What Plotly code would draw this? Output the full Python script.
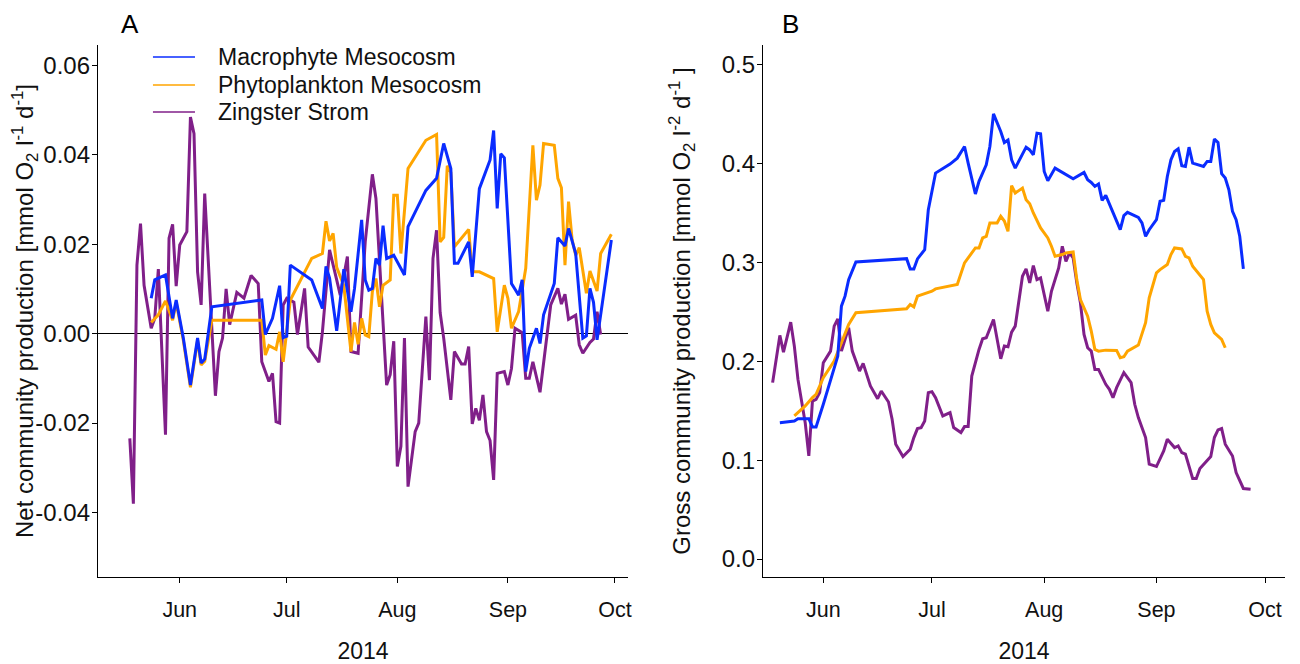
import numpy as np
import pandas as pd
import plotly.graph_objects as go

# ---------------- data (day of year 2014, values) ----------------
# Panel A: net community production
zs_nep_doy = [138, 139, 140, 141, 142, 144, 145, 146, 148, 149, 150, 151, 152, 154, 155, 156, 157, 158, 159,
              162, 163, 164, 165, 166, 168, 170, 172, 174, 175, 177, 178, 179, 180, 181, 182, 184, 185, 187,
              188, 191, 192, 194, 196, 197, 199, 200, 202, 204, 206, 207, 210, 211, 212, 213, 214, 215, 216,
              218, 219, 221, 222, 223, 224, 225, 226, 228, 229, 231, 232, 233, 234, 235, 236, 237, 238, 239,
              240, 241, 243, 244, 245, 246, 248, 249, 250, 251, 253, 254, 256, 258, 259, 260, 261, 263, 264,
              265, 267, 268, 269, 270]
zs_nep = [-0.0234, -0.038, 0.0153, 0.0246, 0.0108, 0.0012, 0.0034, 0.0144, -0.0226, 0.0213, 0.0244, 0.0106,
          0.0198, 0.0228, 0.0484, 0.0447, 0.0138, 0.0064, 0.0313,
          -0.0139, -0.004, -0.001, 0.01, 0.002, 0.0092, 0.0079, 0.013, 0.0112, -0.0063, -0.0107, -0.0089,
          -0.0197, -0.02, 0.0064, 0.0079, 0.007, -0.0002, 0.0101,
          -0.003, -0.0064, 0.0004, 0.0187, 0.012, 0.0086, 0.0172, -0.004, -0.0044, 0.0205, 0.0356, 0.0302,
          -0.0115, -0.0092, -0.0017, -0.0297, -0.0252, -0.001, -0.0342,
          -0.0219, -0.02, 0.0038, -0.0104, 0.0168, 0.0231, 0.0047, -0.001, -0.0148, -0.004, -0.0068, -0.0068,
          -0.0029, -0.0202, -0.0167, -0.0194, -0.0137, -0.0219, -0.0239,
          -0.0327, -0.0089, -0.0085, -0.0115, -0.0078, 0.0012, 0.0002, -0.01, -0.01, -0.0063, -0.0131, -0.0063,
          0.0064, 0.0101, 0.0066, 0.0088, 0.0032, 0.0041, -0.0025,
          -0.0044, -0.002, -0.0012, 0.0049, -0.0002]

mm_nep_doy = [144, 145, 148, 150, 151, 153, 155, 157, 158, 159, 161, 175, 176, 178, 180, 181, 182, 183, 189,
              192, 193, 194, 196, 198, 200, 201, 203, 204, 205, 206, 207, 208, 209, 210, 212, 215, 216, 221,
              224, 226, 228, 229, 230, 233, 234, 236, 239, 240, 241, 242, 243, 245, 246, 247, 248, 249, 250,
              252, 253, 254, 257, 258, 260, 261, 263, 265, 266, 267, 268, 269, 273]
mm_nep = [0.0079, 0.012, 0.0131, 0.0034, 0.0075, -0.001, -0.0115, -0.001, -0.0066, -0.0057, 0.006, 0.0075,
          -0.0002, 0.0034, 0.0107, -0.0009, -0.0006, 0.0153, 0.012,
          0.0056, 0.015, 0.0124, 0.0006, 0.0144, 0.0049, 0.0101, 0.0254, 0.012, 0.0097, 0.0101, 0.0168,
          0.0153, 0.0241, 0.0168, 0.0175, 0.0131, 0.0239, 0.032,
          0.0347, 0.0425, 0.0369, 0.0157, 0.0157, 0.0205, 0.0127, 0.0324, 0.0388, 0.0454, 0.028, 0.0402,
          0.0393, 0.0112, 0.0099, 0.0086, 0.012, -0.0085, -0.0033,
          0.0012, -0.0022, 0.0042, 0.0112, 0.0214, 0.0196, 0.0235, 0.0179, -0.001, -0.0005, 0.0101, 0.007,
          -0.0014, 0.0209]

pm_nep_doy = [144, 146, 148, 150, 151, 153, 155, 157, 158, 159, 161, 175, 176, 177, 179, 180, 181, 182, 183,
              189, 192, 193, 194, 195, 196, 198, 200, 201, 202, 203, 204, 205, 206, 207, 208, 209, 211, 212,
              213, 214, 216, 221, 224, 225, 226, 227, 228, 229, 233, 234, 236, 240, 241, 243, 244, 245, 247,
              249, 251, 252, 253, 254, 257, 258, 259, 260, 261, 262, 263, 264, 266, 267, 269, 270, 273]
pm_nep = [0.0025, 0.0042, 0.0073, 0.003, 0.007, -0.0015, -0.012, -0.0015, -0.007, -0.0062, 0.003, 0.003,
          -0.0048, -0.0027, -0.0035, 0.0004, -0.0063, 0.0003, 0.0075,
          0.0168, 0.0179, 0.0251, 0.0207, 0.0224, 0.0148, 0.0107, -0.004, 0.0025, -0.0024, 0.0034, -0.0003,
          -0.0007, 0.0094, 0.0123, 0.006, 0.0108, 0.012, 0.0309,
          0.0309, 0.0179, 0.0369, 0.0432, 0.0445, 0.0205, 0.0215, 0.0375, 0.036, 0.0194, 0.0233, 0.0138,
          0.0138, 0.0123, 0.0004, 0.0108, 0.0079, 0.0012, 0.0049,
          0.0146, 0.0421, 0.0298, 0.0332, 0.0425, 0.0421, 0.0347, 0.0326, 0.0153, 0.0295, 0.021, 0.0175,
          0.0192, 0.009, 0.014, 0.0095, 0.0179, 0.0222]

# Panel B: gross community production
zs_gpp_doy = [138, 140, 141, 143, 144, 145, 147, 148, 149, 150, 151, 152, 154, 155, 156, 157, 159, 160, 162,
              163, 165, 167, 168, 170, 171, 172, 174, 176, 177, 178, 179, 180, 181, 182, 183, 185, 187, 188,
              190, 191, 192, 193, 195, 196, 197, 199, 201, 202, 203, 204, 205, 207, 208, 209, 210, 211, 212,
              214, 215, 217, 218, 219, 220, 221, 222, 223, 224, 225, 226, 227, 228, 230, 231, 232, 233, 235,
              237, 238, 239, 241, 242, 244, 246, 247, 249, 250, 251, 252, 254, 255, 256, 257, 259, 260, 261,
              262, 263, 265, 266, 268, 270]
zs_gpp = [0.1785, 0.2263, 0.2094, 0.2397, 0.2155, 0.1818, 0.138, 0.1043, 0.1599, 0.1616, 0.1684, 0.1987,
          0.2104, 0.2357, 0.2431, 0.2104, 0.234, 0.2104, 0.1902,
          0.198, 0.1751, 0.1623, 0.17, 0.1589, 0.1414, 0.1162, 0.1037, 0.1111, 0.1229, 0.132, 0.133, 0.1397,
          0.1684, 0.1694, 0.1633, 0.1448, 0.1482, 0.133,
          0.128, 0.134, 0.134, 0.1852, 0.2121, 0.2229, 0.2239, 0.2424, 0.2027, 0.2155, 0.2148, 0.2296,
          0.2357, 0.2862, 0.2936, 0.2795, 0.297, 0.2828, 0.2845,
          0.2508, 0.271, 0.2946, 0.3165, 0.3013, 0.3098, 0.3047, 0.2795, 0.2593, 0.2273, 0.2138, 0.2104,
          0.1919, 0.1919, 0.1768, 0.1717, 0.1633, 0.1734, 0.1886,
          0.1785, 0.1566, 0.1431, 0.1229, 0.096, 0.0936, 0.1094, 0.1212, 0.1128, 0.1145, 0.1077, 0.1061,
          0.0815, 0.0815, 0.0916, 0.096, 0.1037, 0.1229, 0.1306,
          0.132, 0.1162, 0.1043, 0.0875, 0.0714, 0.0707]

mm_gpp_doy = [140, 144, 145, 148, 149, 150, 152, 154, 156, 157, 158, 159, 161, 175, 176, 177, 178, 180, 181,
              183, 187, 189, 191, 192, 194, 195, 197, 198, 199, 201, 202, 203, 204, 205, 208, 209, 210, 211,
              212, 213, 214, 216, 221, 224, 225, 226, 227, 228, 229, 230, 234, 235, 236, 239, 240, 241, 242,
              244, 245, 246, 247, 248, 249, 250, 251, 252, 253, 254, 257, 258, 259, 260, 261, 262, 263, 264,
              265, 266, 267, 268]
mm_gpp = [0.138, 0.1397, 0.142, 0.142, 0.1337, 0.1337, 0.1566, 0.1818, 0.2054, 0.2559, 0.266, 0.2828, 0.3007,
          0.304, 0.2936, 0.2936, 0.3037, 0.3131, 0.3535,
          0.3906, 0.3997, 0.4057, 0.4175, 0.4007, 0.3694, 0.3822, 0.399, 0.4175, 0.4505, 0.4327, 0.4215,
          0.424, 0.404, 0.3956, 0.4168, 0.414, 0.4091, 0.431,
          0.4303, 0.3922, 0.3828, 0.3956, 0.3848, 0.3912, 0.3838, 0.3811, 0.3771, 0.3795, 0.363, 0.368,
          0.3333, 0.3475, 0.3508, 0.3458, 0.3401, 0.3266, 0.3333,
          0.3434, 0.362, 0.363, 0.3872, 0.404, 0.4125, 0.4152, 0.398, 0.3973, 0.4168, 0.4007, 0.3973, 0.4024,
          0.4024, 0.425, 0.4215, 0.3899, 0.3855, 0.3737,
          0.3518, 0.3434, 0.3266, 0.2936]

pm_gpp_doy = [144, 147, 149, 150, 152, 155, 157, 159, 161, 175, 176, 177, 178, 181, 182, 183, 189, 191, 194,
              195, 196, 197, 198, 200, 201, 202, 203, 204, 205, 207, 208, 209, 210, 212, 214, 215, 216, 218,
              219, 221, 222, 223, 225, 226, 227, 228, 230, 233, 234, 235, 236, 239, 241, 242, 244, 245, 247,
              248, 249, 251, 252, 253, 254, 257, 258, 259, 260, 262, 263]
pm_gpp = [0.1448, 0.1549, 0.1633, 0.1667, 0.1835, 0.2003, 0.2189, 0.2374, 0.2492, 0.2532, 0.2576, 0.2552,
          0.266, 0.2694, 0.271, 0.2734, 0.2778, 0.2997, 0.3148,
          0.3148, 0.325, 0.3266, 0.3401, 0.3401, 0.3468, 0.342, 0.3316, 0.3778, 0.3704, 0.3754, 0.3636,
          0.3596, 0.3502, 0.335, 0.325, 0.3165, 0.3064, 0.3081,
          0.3098, 0.3108, 0.2828, 0.2626, 0.2458, 0.2306, 0.2121, 0.2104, 0.2114, 0.2111, 0.2037, 0.2047,
          0.2104, 0.2165, 0.2391, 0.2643, 0.2896, 0.2929, 0.298,
          0.3081, 0.3148, 0.3138, 0.3064, 0.3047, 0.2963, 0.2828, 0.2508, 0.2374, 0.229, 0.2222, 0.2138]

series_names = ["Macrophyte Mesocosm", "Phytoplankton Mesocosm", "Zingster Strom"]
series_colors = ["#0a2cff", "#ffa500", "#801f89"]

nep_ticks = [-0.04, -0.02, 0.0, 0.02, 0.04, 0.06]
nep_ticktext = ["-0.04", "-0.02", "0.00", "0.02", "0.04", "0.06"]
gpp_ticks = [0.0, 0.1, 0.2, 0.3, 0.4, 0.5]
gpp_ticktext = ["0.0", "0.1", "0.2", "0.3", "0.4", "0.5"]


def to_dates(doy):
    return pd.Timestamp("2014-01-01") + pd.to_timedelta(np.asarray(doy) - 1, unit="D")


FONT = "Liberation Sans, Arial, Helvetica, sans-serif"
TXT = "#111111"
fig = go.Figure()

panel_a = [(mm_nep_doy, mm_nep), (pm_nep_doy, pm_nep), (zs_nep_doy, zs_nep)]
panel_b = [(mm_gpp_doy, mm_gpp), (pm_gpp_doy, pm_gpp), (zs_gpp_doy, zs_gpp)]

# draw order: purple first (bottom), then orange, then blue on top
for idx in [2, 1, 0]:
    d, v = panel_a[idx]
    fig.add_trace(go.Scatter(x=to_dates(d), y=v, mode="lines", xaxis="x", yaxis="y",
                             line=dict(color=series_colors[idx], width=3), showlegend=False,
                             name=series_names[idx]))
for idx in [2, 1, 0]:
    d, v = panel_b[idx]
    fig.add_trace(go.Scatter(x=to_dates(d), y=v, mode="lines", xaxis="x2", yaxis="y2",
                             line=dict(color=series_colors[idx], width=3), showlegend=False,
                             name=series_names[idx]))

axis_common = dict(showgrid=False, showline=True, linecolor="black", linewidth=1.3,
                   ticks="outside", ticklen=5, tickwidth=1.3, tickcolor="black", automargin=False)

xcommon = dict(axis_common, type="date", tickformat="%b", dtick="M1", tick0="2014-06-01",
               zeroline=False, ticklabelstandoff=8,
               tickfont=dict(family=FONT, size=21.5, color=TXT),
               title=dict(text="2014", font=dict(family=FONT, size=23, color=TXT), standoff=27))

ycommon = dict(axis_common, ticklabelstandoff=-3, tickfont=dict(family=FONT, size=24, color=TXT))

# legend drawn as key lines + labels in the upper-left corner of panel A
legend_rows_y = [0.9774, 0.9248, 0.8741]
legend_shapes = []
legend_texts = []
for i in range(3):
    legend_shapes.append(dict(type="line", xref="paper", yref="paper",
                              x0=0.0463, x1=0.0817, y0=legend_rows_y[i], y1=legend_rows_y[i],
                              line=dict(color=series_colors[i], width=1.6)))
    legend_texts.append(dict(text=series_names[i], x=0.0994, y=legend_rows_y[i], xref="paper", yref="paper",
                             showarrow=False, xanchor="left", yanchor="middle",
                             font=dict(family=FONT, size=23, color=TXT)))

# the page adds an 8 px body margin, so the figure is 8 px smaller than the window
fig.update_layout(
    width=1292, height=656,
    paper_bgcolor="white", plot_bgcolor="white",
    margin=dict(l=90, r=15, t=37, b=87, autoexpand=False),
    font=dict(family=FONT, size=22, color=TXT),
    showlegend=False,
    xaxis=dict(xcommon, domain=[0.0, 0.4465], anchor="y",
               range=["2014-05-09 02:00", "2014-10-04 16:00"]),
    xaxis2=dict(xcommon, domain=[0.5602, 1.0], anchor="y2",
                range=["2014-05-15 08:00", "2014-10-06 12:00"]),
    yaxis=dict(ycommon, domain=[0, 1], anchor="x", range=[-0.0544, 0.0645],
               tickmode="array", tickvals=nep_ticks, ticktext=nep_ticktext,
               zeroline=True, zerolinecolor="black", zerolinewidth=1.3,
               title=dict(text="Net community production [mmol O<sub>2</sub> l<sup>-1</sup> d<sup>-1</sup>]",
                          font=dict(family=FONT, size=24, color=TXT), standoff=5)),
    yaxis2=dict(ycommon, domain=[0, 1], anchor="x2", range=[-0.0182, 0.5202],
                tickmode="array", tickvals=gpp_ticks, ticktext=gpp_ticktext, zeroline=False,
                title=dict(text="Gross community production [mmol O<sub>2</sub> l<sup>-2</sup> d<sup>-1</sup> ]",
                           font=dict(family=FONT, size=24, color=TXT), standoff=24)),
    shapes=legend_shapes,
    annotations=legend_texts + [
        dict(text="A", x=0.027, y=1.04, xref="paper", yref="paper", showarrow=False,
             font=dict(family=FONT, size=26, color="black"), xanchor="center", yanchor="middle"),
        dict(text="B", x=0.583, y=1.04, xref="paper", yref="paper", showarrow=False,
             font=dict(family=FONT, size=26, color="black"), xanchor="center", yanchor="middle"),
    ],
)

fig.write_html("out.html")
